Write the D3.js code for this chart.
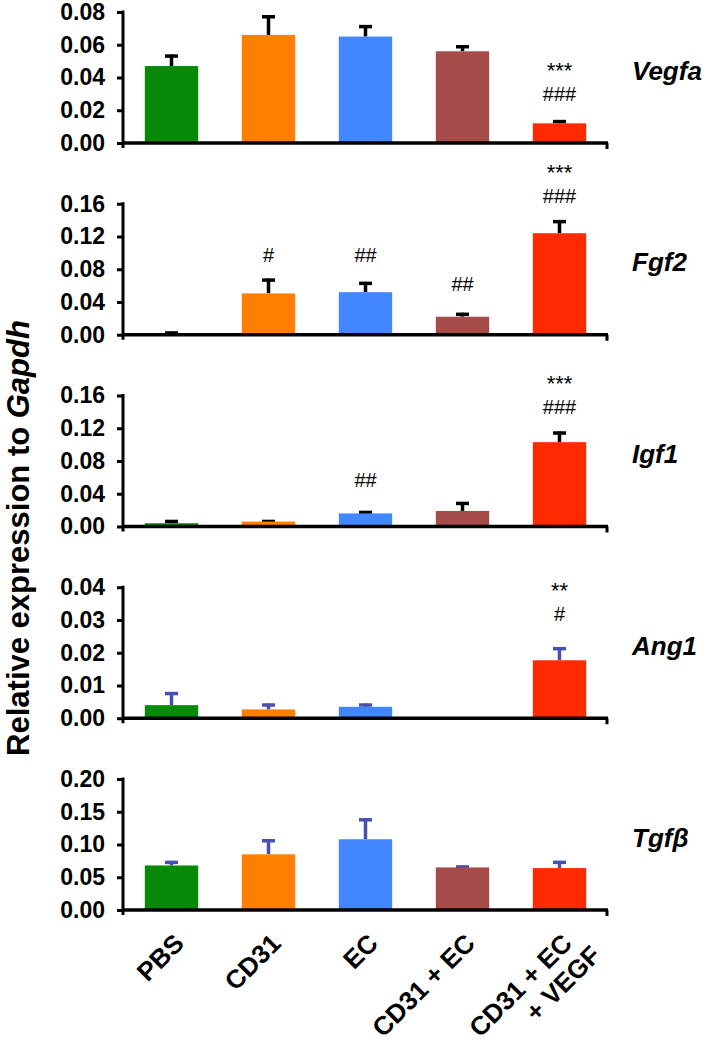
<!DOCTYPE html>
<html>
<head>
<meta charset="utf-8">
<script src="https://cdn.jsdelivr.net/npm/d3@7"></script>
<style>
  body { margin: 0; background: #fff; }
  text { font-family: "Liberation Sans", Arial, sans-serif; }
</style>
</head>
<body>
<svg id="chart" width="711" height="1048"></svg>
<script>
// groups and genes
var groups = ["PBS", "CD31", "EC", "CD31 + EC", "CD31 + EC|+ VEGF"];
var genes = ["Vegfa", "Fgf2", "Igf1", "Ang1", "Tgfβ"];
var barColors = ["#078a07", "#ff7f00", "#4287ff", "#a64b47", "#ff2a00"];

// axis ranges per gene
var yMax = [0.08, 0.16, 0.16, 0.04, 0.20];
var yStep = [0.02, 0.04, 0.04, 0.01, 0.05];

// means (rows = genes, cols = groups)
var means = [
  [0.047, 0.066, 0.065, 0.056, 0.012],
  [0.001, 0.0505, 0.052, 0.022, 0.124],
  [0.004, 0.006, 0.016, 0.019, 0.103],
  [0.004, 0.0027, 0.0035, 0.0, 0.0177],
  [0.068, 0.085, 0.108, 0.065, 0.064]
];
// top of error bar (mean + sem), 0 = no error bar
var errTop = [
  [0.054, 0.078, 0.072, 0.0597, 0.014],
  [0.004, 0.0686, 0.0646, 0.0268, 0.140],
  [0.008, 0.008, 0.019, 0.030, 0.116],
  [0.008, 0.0045, 0.0045, 0.0, 0.0217],
  [0.075, 0.108, 0.140, 0.068, 0.075]
];
var errColor = ["#000", "#000", "#000", "#4650b0", "#4650b0"];

// significance marks: gene index, group index, lines of text, level of first line (axis units)
var marks = [
  [0, 4, ["***", "###"], 0.0464],
  [1, 4, ["***", "###"], 0.202],
  [1, 1, ["#"], 0.0975], [1, 2, ["##"], 0.0975], [1, 3, ["##"], 0.0614],
  [2, 4, ["***", "###"], 0.179], [2, 2, ["##"], 0.057],
  [3, 4, ["**", "#"], 0.040]
];

var svg = d3.select("#chart");

var axisLeft = 123, axisRight = 608;
var firstBottom = 143, panelH = 131, pitch = 191.75;

var x = d3.scaleBand()
  .domain(groups)
  .range([axisLeft, axisRight])
  .paddingInner(0.45)
  .paddingOuter(0.225);

function cx(i) { return x(groups[i]) + x.bandwidth() / 2; }

genes.forEach(function(gene, gi) {
  var bottom = firstBottom + gi * pitch;
  var y = d3.scaleLinear().domain([0, yMax[gi]]).range([bottom, bottom - panelH]);
  var g = svg.append("g").attr("class", "panel");

  var rows = means[gi].map(function(m, i) { return {i: i, m: m, e: errTop[gi][i]}; });

  // error bars (drawn first, bar covers the lower part)
  var eb = g.selectAll("g.err")
    .data(rows.filter(function(d) { return d.e > 0; }))
    .join("g")
    .attr("class", "err");
  eb.append("line")
    .attr("x1", function(d) { return cx(d.i); })
    .attr("x2", function(d) { return cx(d.i); })
    .attr("y1", function(d) { return y(d.e); })
    .attr("y2", function(d) { return y(d.m); })
    .style("stroke", errColor[gi])
    .style("stroke-width", 3.5);
  eb.append("line")
    .attr("x1", function(d) { return cx(d.i) - 6.5; })
    .attr("x2", function(d) { return cx(d.i) + 6.5; })
    .attr("y1", function(d) { return y(d.e) + 1.5; })
    .attr("y2", function(d) { return y(d.e) + 1.5; })
    .style("stroke", errColor[gi])
    .style("stroke-width", 3.5);

  // bars
  g.selectAll("rect.bar")
    .data(rows)
    .join("rect")
    .attr("class", "bar")
    .attr("x", function(d) { return x(groups[d.i]); })
    .attr("width", x.bandwidth())
    .attr("y", function(d) { return y(d.m); })
    .attr("height", function(d) { return bottom - y(d.m); })
    .style("fill", function(d) { return barColors[d.i]; });

  // y axis
  var ticks = d3.range(0, yMax[gi] + yStep[gi] / 2, yStep[gi]);
  var ax = g.append("g")
    .attr("transform", "translate(" + axisLeft + ",0)")
    .call(d3.axisLeft(y).tickValues(ticks).tickSize(6).tickPadding(12)
      .tickFormat(d3.format(".2f")));
  ax.select(".domain").remove();
  ax.selectAll(".tick line").style("stroke", "#000").style("stroke-width", 3);
  ax.selectAll(".tick text")
    .style("font-size", "23px")
    .style("font-weight", "bold")
    .style("font-family", "'Liberation Sans', Arial, sans-serif")
    .style("fill", "#000");
  g.append("line")
    .attr("x1", axisLeft).attr("x2", axisLeft)
    .attr("y1", y(yMax[gi]) - 1.5).attr("y2", bottom + 5)
    .style("stroke", "#000").style("stroke-width", 3);

  // x axis line with end tick
  g.append("line")
    .attr("x1", axisLeft).attr("x2", axisRight)
    .attr("y1", bottom).attr("y2", bottom)
    .style("stroke", "#000").style("stroke-width", 3.5);
  g.append("line")
    .attr("x1", axisRight - 1).attr("x2", axisRight - 1)
    .attr("y1", bottom).attr("y2", bottom + 6)
    .style("stroke", "#000").style("stroke-width", 3);

  // gene label
  g.append("text")
    .attr("x", 632)
    .attr("y", bottom - panelH / 2 + 2)
    .text(gene)
    .style("font-size", "26px")
    .style("font-weight", "bold")
    .style("font-style", "italic")
    .style("fill", "#000");

  // significance marks, one text per bar
  marks.filter(function(m) { return m[0] === gi; }).forEach(function(m) {
    var t = g.append("text")
      .attr("text-anchor", "middle")
      .style("fill", "#000");
    var y0 = y(m[3]);
    m[2].forEach(function(line, li) {
      var isStar = line.charAt(0) === "*";
      t.append("tspan")
        .attr("x", cx(m[1]))
        .attr("y", y0 + (li === 0 ? (isStar ? 11 : 7) : 34))
        .style("font-size", isStar ? "22px" : "20px")
        .text(line);
    });
  });
});

// category labels under last panel
var lastBottom = firstBottom + 4 * pitch;
groups.forEach(function(name, i) {
  var t = svg.append("text")
    .attr("transform", "translate(" + (cx(i) + 14) + "," + (lastBottom + 35) + ") rotate(-45)")
    .attr("text-anchor", "end")
    .style("font-size", "26px")
    .style("font-weight", "bold")
    .style("fill", "#000");
  name.split("|").forEach(function(line, li) {
    t.append("tspan")
      .attr("x", li === 0 ? 0 : 12)
      .attr("dy", li === 0 ? 0 : "1.1em")
      .text(line);
  });
});

// y axis title
var title = svg.append("text")
  .attr("transform", "translate(29,538) rotate(-90)")
  .attr("text-anchor", "middle")
  .style("font-size", "31px")
  .style("font-weight", "bold")
  .style("fill", "#000");
title.append("tspan").text("Relative expression to ");
title.append("tspan").style("font-style", "italic").text("Gapdh");
</script>
</body>
</html>
